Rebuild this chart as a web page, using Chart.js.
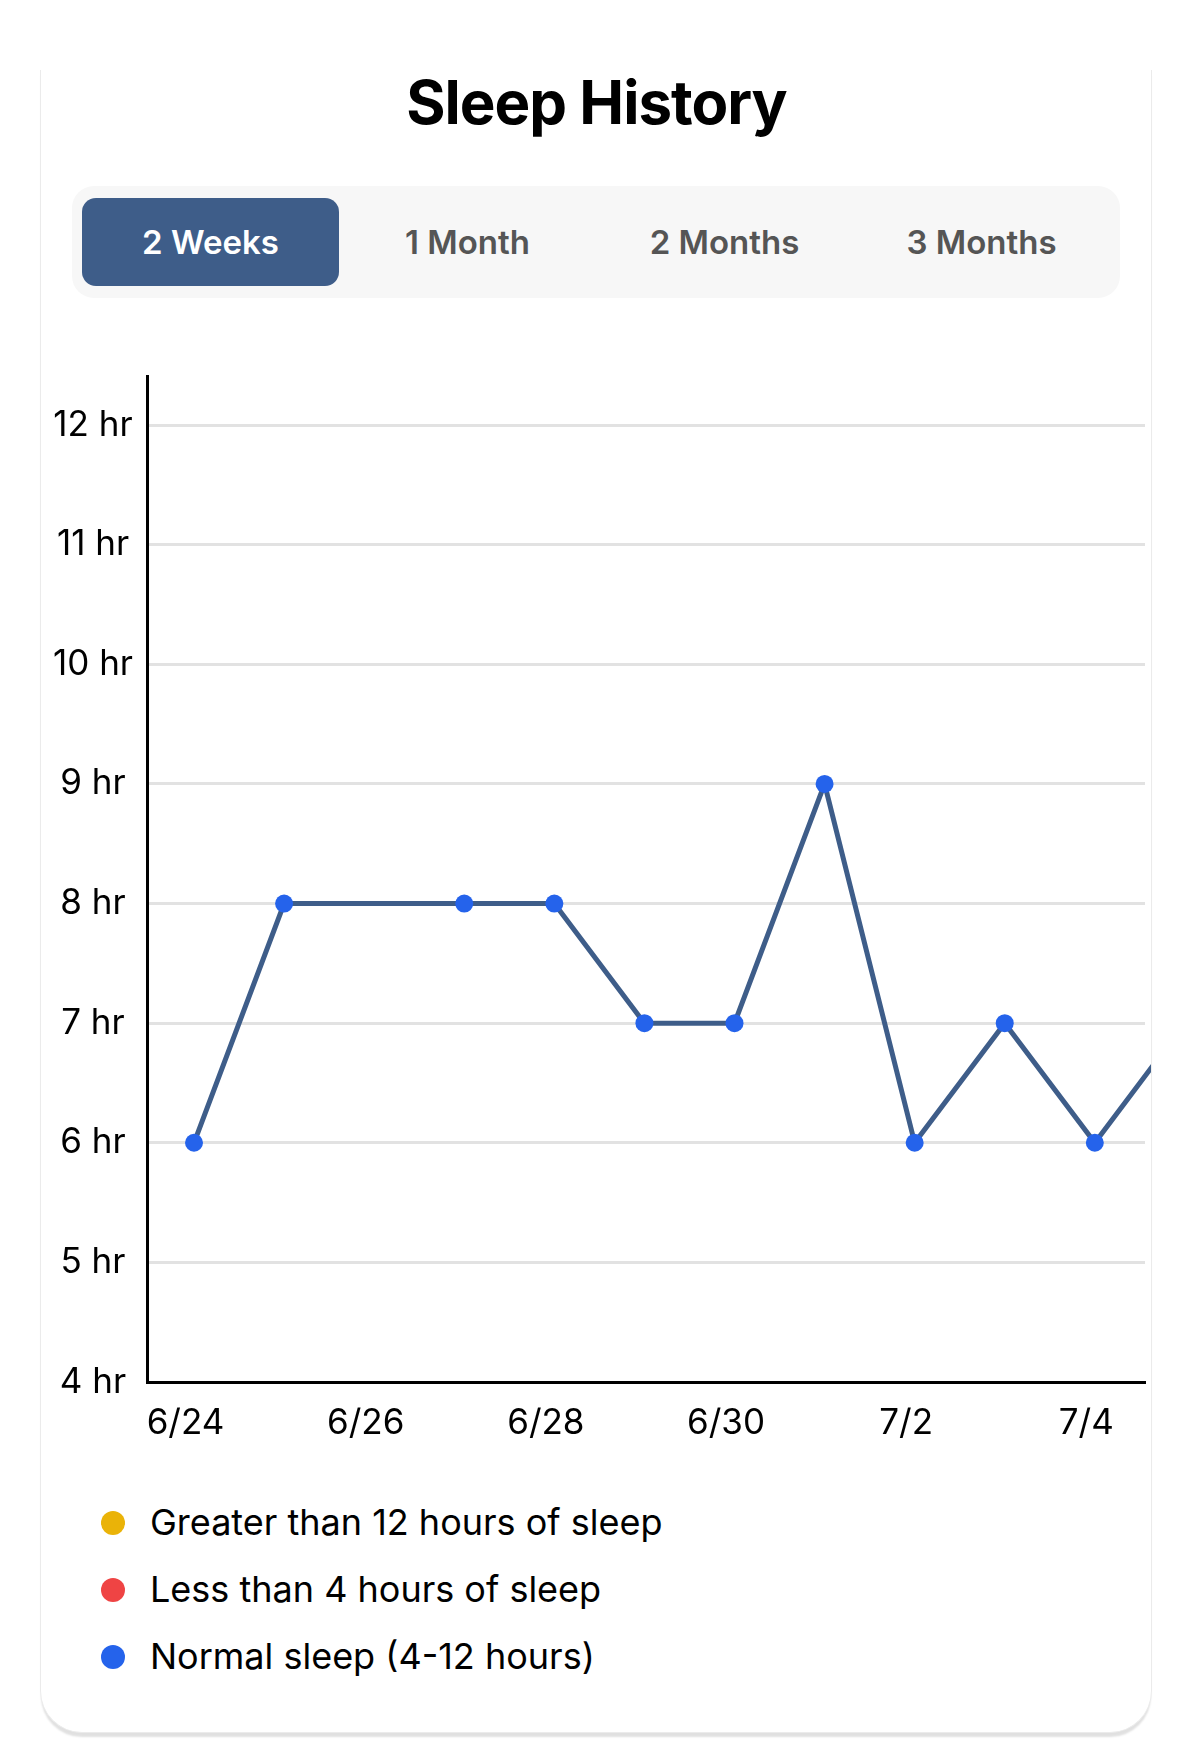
<!DOCTYPE html>
<html><head><meta charset="utf-8">
<script src="https://cdn.jsdelivr.net/npm/chart.js@4"></script>
<style>
html,body{margin:0;padding:0;background:#fff;width:1193px;height:1749px;overflow:hidden;font-family:Inter,"Noto Sans",sans-serif;}
#card{position:absolute;left:40px;top:70px;width:1110px;height:1662px;border:1px solid #ebebeb;border-top:none;border-radius:0 0 42px 42px;box-shadow:0 5px 2px -1px rgba(0,0,0,0.12);background:#fff;}
#title{position:absolute;left:0;top:72px;width:1193px;text-align:center;font-size:60px;line-height:60px;font-weight:700;color:#000;letter-spacing:-1px;}
#tabs{position:absolute;left:72px;top:186px;width:1028px;height:88px;padding:12px 10px;background:#f7f7f7;border-radius:22px;display:flex;}
.tab{width:257px;height:88px;line-height:88px;text-align:center;font-size:33px;font-weight:600;color:#555;border-radius:14px;}
.tab.sel{background:#3e5d89;color:#fff;}
#chartBox{position:absolute;left:41px;top:330px;width:1110px;height:1112px;}
#legend{position:absolute;left:101px;top:1489px;}
.li{height:67px;line-height:67px;font-size:36px;color:#000;display:flex;align-items:center;}
.dot{width:24px;height:24px;border-radius:50%;margin-right:25px;flex:none;}
</style></head>
<body>
<div id="card"></div>
<div id="title">Sleep History</div>
<div id="tabs"></div>
<div id="chartBox"><canvas id="c"></canvas></div>
<div id="legend"></div>
<script>
const tabLabels = ['2 Weeks', '1 Month', '2 Months', '3 Months'];
const selectedTab = 0;
const axisDates = ['6/24','6/25','6/26','6/27','6/28','6/29','6/30','7/1','7/2','7/3','7/4','7/5'];
const sleepDates = ['6/24','6/25','6/27','6/28','6/29','6/30','7/1','7/2','7/3','7/4','7/5'];
const sleepHours = [6, 8, 8, 8, 7, 7, 9, 6, 7, 6, 7];
const xTickDates = ['6/24','6/26','6/28','6/30','7/2','7/4'];
const yTickHours = [4, 5, 6, 7, 8, 9, 10, 11, 12];
const legendLabels = ['Greater than 12 hours of sleep', 'Less than 4 hours of sleep', 'Normal sleep (4-12 hours)'];
const legendColors = ['#EAB308', '#EF4444', '#2563EB'];

const tabs = document.getElementById('tabs');
tabLabels.forEach((t, i) => {
  const d = document.createElement('div');
  d.className = 'tab' + (i === selectedTab ? ' sel' : '');
  d.textContent = t;
  tabs.appendChild(d);
});
const legend = document.getElementById('legend');
legendLabels.forEach((t, i) => {
  const row = document.createElement('div');
  row.className = 'li';
  const dot = document.createElement('span');
  dot.className = 'dot';
  dot.style.background = legendColors[i];
  const txt = document.createElement('span');
  txt.textContent = t;
  row.appendChild(dot); row.appendChild(txt);
  legend.appendChild(row);
});

Chart.defaults.font.family = 'Inter, "Noto Sans", sans-serif';
Chart.defaults.color = '#000';

const points = sleepDates.map((d, i) => ({x: axisDates.indexOf(d), y: sleepHours[i]}));

new Chart(document.getElementById('c'), {
  type: 'line',
  data: {
    datasets: [{
      label: 'Sleep',
      data: points,
      borderColor: '#3e5d89',
      borderWidth: 5,
      tension: 0,
      pointRadius: 9,
      pointHoverRadius: 9,
      pointBorderWidth: 0,
      pointBackgroundColor: ctx => {
        const v = ctx.raw ? ctx.raw.y : 0;
        return v > 12 ? legendColors[0] : (v < 4 ? legendColors[1] : legendColors[2]);
      },
      clip: {left: 10, top: 10, right: 8, bottom: 10}
    }]
  },
  options: {
    responsive: true,
    maintainAspectRatio: false,
    animation: false,
    layout: {autoPadding: false, padding: {top: 46, right: 6, bottom: 0, left: 0}},
    plugins: {legend: {display: false}, tooltip: {enabled: false}},
    events: [],
    scales: {
      x: {
        type: 'linear',
        position: 'bottom',
        min: -0.522,
        max: 10.557,
        grid: {display: false, drawTicks: false},
        border: {display: true, color: '#000', width: 3},
        afterBuildTicks: s => { s.ticks = xTickDates.map(d => ({value: axisDates.indexOf(d)})); },
        afterFit: s => { s.height = 60; s.paddingLeft = 0; s.paddingRight = 0; },
        ticks: {
          autoSkip: false,
          maxRotation: 0,
          padding: 20,
          labelOffset: -8.5,
          font: {size: 35},
          color: '#000',
          callback: v => axisDates[v]
        }
      },
      y: {
        min: 4,
        max: 12.41,
        grid: {color: '#e2e2e2', lineWidth: 3, drawTicks: false},
        border: {display: true, color: '#000', width: 3},
        afterBuildTicks: s => { s.ticks = yTickHours.map(v => ({value: v})); },
        afterFit: s => { s.width = 106; },
        ticks: {
          crossAlign: 'center',
          padding: 14,
          font: {size: 35},
          color: '#000',
          callback: v => v + ' hr'
        }
      }
    }
  }
});
</script>
</body></html>
